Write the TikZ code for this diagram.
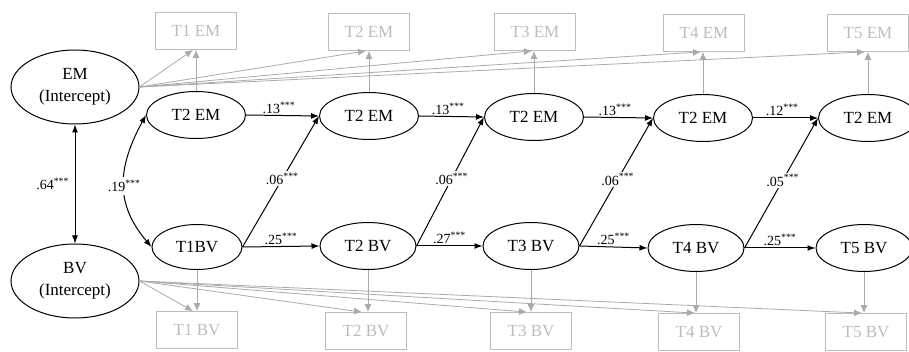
\documentclass[tikz,border=0pt]{standalone}
\usepackage{fontspec}
\setmainfont{Liberation Serif}
\usetikzlibrary{arrows.meta,shapes.geometric}
\definecolor{lgray}{RGB}{170,170,170}
\definecolor{tgray}{RGB}{188,188,188}
\begin{document}
\begin{tikzpicture}[x=1pt,y=-1pt,
  lat/.style={draw,ellipse,line width=1pt,minimum width=96pt,minimum height=47pt,inner sep=0pt,font=\fontsize{17}{20}\selectfont},
  icpt/.style={draw,ellipse,line width=1pt,minimum width=128pt,minimum height=74pt,inner sep=0pt,align=center,font=\fontsize{17}{22}\selectfont},
  obs/.style={draw=tgray,line width=0.8pt,minimum width=81pt,minimum height=37pt,inner sep=0pt,text=tgray,font=\fontsize{17}{20}\selectfont},
  blk/.style={-{Latex[length=8pt,width=6pt]},line width=1pt},
  dblk/.style={{Latex[length=8pt,width=6pt]}-{Latex[length=8pt,width=6pt]},line width=1pt},
  gry/.style={-{Latex[length=8pt,width=7pt]},draw=lgray,line width=0.8pt},
  coef/.style={font=\fontsize{14}{16}\selectfont,inner sep=1.5pt}
]
\useasboundingbox (0,0) rectangle (909,352);

% intercepts
\node[icpt] (emi) at (75,87) {EM\\(Intercept)};
\node[icpt] (bvi) at (75,281) {BV\\(Intercept)};

% latent EM
\node[lat,minimum width=99pt] (em1) at (196,115) {T2 EM};
\node[lat,minimum width=99pt] (em2) at (369,116) {T2 EM};
\node[lat,minimum width=99pt] (em3) at (534,117) {T2 EM};
\node[lat,minimum width=99pt] (em4) at (703,118) {T2 EM};
\node[lat,minimum width=99pt] (em5) at (868,118) {T2 EM};

% latent BV
\node[lat,minimum width=90pt,minimum height=45pt] (bv1) at (197,247) {T1BV};
\node[lat] (bv2) at (368,246) {T2 BV};
\node[lat] (bv3) at (531,246) {T3 BV};
\node[lat] (bv4) at (696,248) {T4 BV};
\node[lat] (bv5) at (864,248) {T5 BV};

% observed boxes
\node[obs] (oe1) at (196,31) {T1 EM};
\node[obs] (oe2) at (369,32) {T2 EM};
\node[obs] (oe3) at (535,32) {T3 EM};
\node[obs] (oe4) at (704,33) {T4 EM};
\node[obs] (oe5) at (868,33) {T5 EM};

\node[obs] (ob1) at (197,330) {T1 BV};
\node[obs] (ob2) at (366,331) {T2 BV};
\node[obs] (ob3) at (531,331) {T3 BV};
\node[obs] (ob4) at (699,332) {T4 BV};
\node[obs] (ob5) at (866,332) {T5 BV};

% grey loadings from intercepts
\foreach \i in {1,...,5}{
  \draw[gry] (emi.east) -- ([xshift=-3pt]oe\i.south);
  \draw[gry] (bvi.east) -- ([xshift=-4pt]ob\i.north);
  \draw[gry] (em\i.north) -- (em\i.north |- oe\i.south);
  \draw[gry] (bv\i.south) -- (bv\i.south |- ob\i.north);
}

% intercept covariance
\draw[dblk] (emi) -- node[coef,left=4pt,pos=0.5]{.64\textsuperscript{***}} (bvi);

% curved covariance
\draw[dblk] (em1.west) .. controls (116,170) and (116,205) .. node[coef,fill=white,pos=0.5,inner sep=3pt]{.19\textsuperscript{***}} (bv1.west);

% autoregressive EM
\draw[blk] (em1.east) -- node[coef,above,pos=0.45]{.13\textsuperscript{***}} (em2.west);
\draw[blk] (em2.east) -- node[coef,above,pos=0.45]{.13\textsuperscript{***}} (em3.west);
\draw[blk] (em3.east) -- node[coef,above,pos=0.45]{.13\textsuperscript{***}} (em4.west);
\draw[blk] (em4.east) -- node[coef,above,pos=0.45]{.12\textsuperscript{***}} (em5.west);

% autoregressive BV
\draw[blk] (bv1.east) -- node[coef,above,pos=0.5]{.25\textsuperscript{***}} (bv2.west);
\draw[blk] (bv2.east) -- node[coef,above,pos=0.5]{.27\textsuperscript{***}} (bv3.west);
\draw[blk] (bv3.east) -- node[coef,above,pos=0.5]{.25\textsuperscript{***}} (bv4.west);
\draw[blk] (bv4.east) -- node[coef,above,pos=0.5]{.25\textsuperscript{***}} (bv5.west);

% cross-lagged
\draw[blk] (bv1.east) -- node[coef,fill=white,pos=0.52]{.06\textsuperscript{***}} (em2.west);
\draw[blk] (bv2.east) -- node[coef,fill=white,pos=0.52]{.06\textsuperscript{***}} (em3.west);
\draw[blk] (bv3.east) -- node[coef,fill=white,pos=0.52]{.06\textsuperscript{***}} (em4.west);
\draw[blk] (bv4.east) -- node[coef,fill=white,pos=0.52]{.05\textsuperscript{***}} (em5.west);
\end{tikzpicture}
\end{document}
